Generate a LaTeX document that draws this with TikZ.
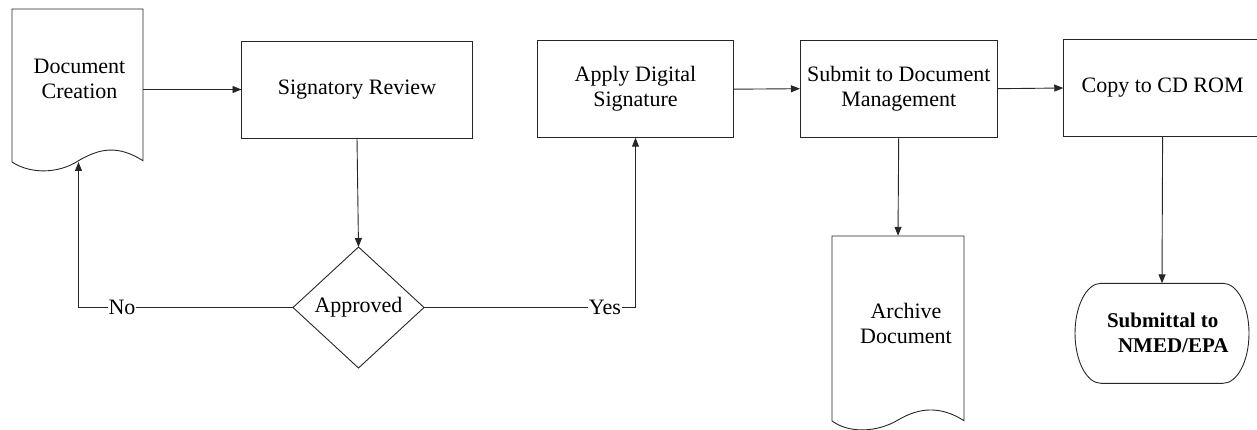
\documentclass[tikz,border=0pt]{standalone}
\usepackage{fontspec}
\setmainfont{Liberation Serif}
\usetikzlibrary{shapes.geometric,arrows.meta}
\begin{document}
\begin{tikzpicture}[x=1pt,y=-1pt,
  every node/.style={font=\fontsize{22}{25}\selectfont, inner sep=0pt, outer sep=0pt},
  ln/.style={line width=0.9pt, draw=black!85},
  box/.style={ln, draw, rectangle, align=center},
  arr/.style={ln, -{Triangle[length=9pt,width=7pt]}},
  lbl/.style={fill=white, inner xsep=1pt, inner ysep=2pt},
  txt/.style={align=center}]

\useasboundingbox (0,0) rectangle (1257,430);

% Document Creation (document shape)
\draw[ln] (12,9) -- (143,9) -- (143,160.7)
  .. controls (118,145) and (100,148) .. (78,161)
  .. controls (58,174) and (30,174) .. (12,162) -- cycle;
\node (docc) [minimum width=131pt, minimum height=153pt] at (77.5,85.5) {};
\node[txt] (docct) at (79.5,79) {Document\\Creation};

% Rectangles
\node[box, minimum width=231pt, minimum height=97pt] (sig) at (357,89.5) {Signatory Review};
\node[box, minimum width=196.4pt, minimum height=97pt] (ads) at (635.5,89.2) {Apply Digital\\Signature};
\node[box, minimum width=197.5pt, minimum height=97.3pt] (sub) at (898.7,88.7) {Submit to Document\\Management};
\node[box, minimum width=198.7pt, minimum height=97.4pt] (copy) at (1162.6,88) {Copy to CD ROM};

% Decision
\node[ln, draw, diamond, minimum width=131pt, minimum height=121pt] (dia) at (358.5,307.5) {Approved};

% Archive Document (document shape)
\draw[ln] (832,236) -- (964,236) -- (964,420.7)
  .. controls (941,406) and (920,407) .. (898,420)
  .. controls (878,432) and (850,434) .. (832,421) -- cycle;
\node (arch) [minimum width=132pt, minimum height=185pt] at (898,328.3) {};
\node[txt] (archt) at (906,323) {Archive\\Document};

% Terminal
\draw[ln] (1101,283.3) -- (1223,283.3)
  .. controls (1237.4,283.3) and (1249,305.7) .. (1249,333.3)
  .. controls (1249,360.9) and (1237.4,383.3) .. (1223,383.3)
  -- (1101,383.3)
  .. controls (1086.6,383.3) and (1075,360.9) .. (1075,333.3)
  .. controls (1075,305.7) and (1086.6,283.3) .. (1101,283.3) -- cycle;
\node (term) [minimum width=174pt, minimum height=100pt] at (1162,333.3) {};
\node[align=left, anchor=west, font=\bfseries\fontsize{21}{25}\selectfont] (termt) at (1107,332.5) {Submittal to\\\hspace*{11pt}NMED/EPA};

% Connectors
\coordinate (nc) at (78.5,307.5);
\draw[arr] (docc.east |- sig.west) -- (sig.west);
\draw[arr] (sig.south) -- (dia.north);
\draw[arr] (dia.west) -- node[lbl, pos=0.797]{No} (nc) -- (nc |- docc.south);
\draw[arr] (dia.east) -- node[lbl, pos=0.855]{Yes} (ads.south |- dia.east) -- (ads.south);
\draw[arr] (ads.east) -- (sub.west);
\draw[arr] (sub.east) -- (copy.west);
\draw[arr] (sub.south) -- (arch.north);
\draw[arr] (copy.south) -- (term.north);
\end{tikzpicture}
\end{document}
